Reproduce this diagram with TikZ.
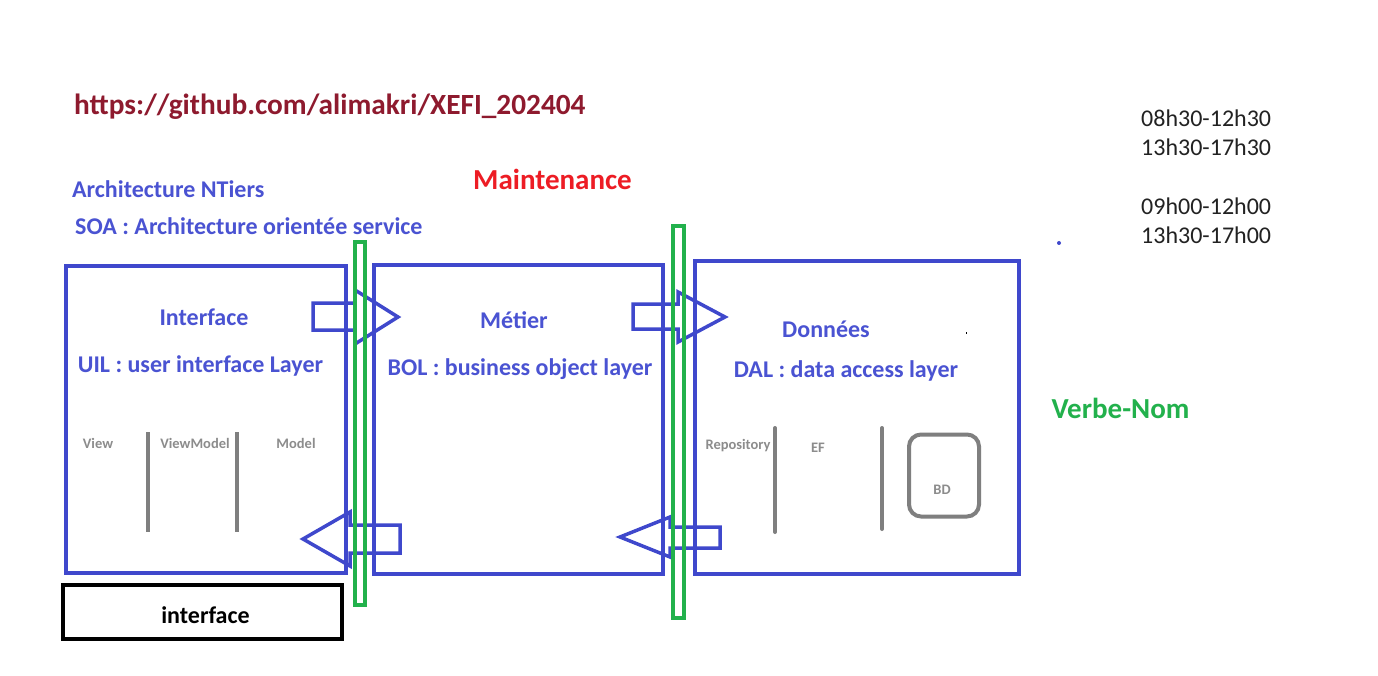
\documentclass[tikz,border=0pt]{standalone}
\usepackage{fontspec}
\setmainfont{Carlito}
\definecolor{pblue}{HTML}{3F48CC}
\definecolor{tblue}{HTML}{4A53D2}
\definecolor{pgreen}{HTML}{22B14C}
\definecolor{pred}{HTML}{ED1C24}
\definecolor{dred}{HTML}{8E1A2E}
\definecolor{pgray}{HTML}{7F7F7F}
\definecolor{tgray}{HTML}{8C8C8C}
\definecolor{tdark}{HTML}{222222}
\begin{document}
\begin{tikzpicture}[x=1pt,y=-1pt,
  layer/.style={draw=pblue,line width=4pt},
  greenbar/.style={draw=pgreen,line width=3.5pt},
  blockarrow/.style={draw=pblue,line width=3.5pt,line join=miter},
  sep/.style={draw=pgray,line width=4.5pt},
  btxt/.style={text=tblue,font=\bfseries\fontsize{24}{28}\selectfont,inner sep=0pt},
  small/.style={text=tgray,font=\bfseries\fontsize{14.5}{17}\selectfont,inner sep=0pt},
  hour/.style={text=tdark,font=\fontsize{24}{28}\selectfont,inner sep=0pt,anchor=west}]
\useasboundingbox[fill=white] (0,0) rectangle (1378,676);
% layer boxes
\node[layer,minimum width=280pt,minimum height=307pt,inner sep=0pt] (ui) at (206,419.5) {};
\node[layer,minimum width=289pt,minimum height=309pt,inner sep=0pt] (bo) at (518.5,419.5) {};
\node[layer,minimum width=324pt,minimum height=313pt,inner sep=0pt] (da) at (857,417.5) {};
\node[draw=black,line width=4pt,minimum width=279pt,minimum height=54pt,inner sep=0pt] (itf) at (202.5,612) {};
\node[font=\bfseries\fontsize{24}{28}\selectfont,inner sep=0pt] (itft) at (205.5,615) {interface};
% arrows
\draw[blockarrow] (313,303) -- (355,303) -- (355,290) -- (398,317) -- (355,344) -- (355,330) -- (313,330) -- cycle;
\draw[blockarrow] (400,525) -- (350,525) -- (350,512) -- (303,539) -- (350,566) -- (350,553) -- (400,553) -- cycle;
\draw[blockarrow] (633,304) -- (678,304) -- (678,292) -- (725,317) -- (678,342) -- (678,329) -- (633,329) -- cycle;
\draw[blockarrow] (720,527) -- (670,527) -- (670,517) -- (620,537) -- (670,557) -- (670,548) -- (720,548) -- cycle;
% green bars
\node[greenbar,minimum width=10pt,minimum height=363pt,inner sep=0pt] (g1) at (360,423.5) {};
\node[greenbar,minimum width=11pt,minimum height=392pt,inner sep=0pt] (g2) at (678.5,422) {};
% titles
\node[text=dred,font=\bfseries\fontsize{29.3}{34}\selectfont,anchor=west,inner sep=0pt] (url) at (74,107) {https://github.com/alimakri/XEFI\_202404};
\node[btxt,anchor=west] (arch) at (72,189) {Architecture NTiers};
\node[btxt,anchor=west] (soa) at (75,226) {SOA : Architecture orientée service};
\node[text=pred,font=\bfseries\fontsize{29}{34}\selectfont,inner sep=0pt] (maint) at (552.5,179) {Maintenance};
\node[text=pgreen,font=\bfseries\fontsize{29}{34}\selectfont,inner sep=0pt] (verbe) at (1120.5,408) {Verbe-Nom};
% layer texts
\node[btxt] (t1) at (204,317) {Interface};
\node[btxt] (t1b) at (200.5,366) {UIL : user interface Layer};
\node[btxt] (t2) at (514,320) {Métier};
\node[btxt] (t2b) at (520,369) {BOL : business object layer};
\node[btxt] (t3) at (826,329) {Données};
\node[btxt] (t3b) at (846,371) {DAL : data access layer};
% interface detail
\node[small] (view) at (98,443) {View};
\node[small] (vm) at (195,443) {ViewModel};
\node[small] (model) at (296,443) {Model};
\coordinate (s1a) at (148,432); \coordinate (s1b) at (148,532);
\coordinate (s2a) at (237,432); \coordinate (s2b) at (237,532);
\draw[sep] (s1a) -- (s1b);
\draw[sep] (s2a) -- (s2b);
% data detail
\node[small] (repo) at (738,446) {Repository};
\node[small] (ef) at (818,448) {EF};
\coordinate (s3a) at (775,428); \coordinate (s3b) at (775,532);
\coordinate (s4a) at (882,428); \coordinate (s4b) at (882,529);
\draw[sep,line width=4pt,line cap=round] (s3a) -- (s3b);
\draw[sep,line width=4pt,line cap=round] (s4a) -- (s4b);
\node[draw=pgray,line width=4pt,rounded corners=12pt,minimum width=70pt,minimum height=82pt,inner sep=0pt] (bd) at (944,475.5) {};
\node[small] (bdt) at (942,490) {BD};
% hours
\node[hour] (h1) at (1141,118) {08h30-12h30};
\node[hour] (h2) at (1141,147) {13h30-17h30};
\node[hour] (h3) at (1141,206) {09h00-12h00};
\node[hour] (h4) at (1141,235) {13h30-17h00};
% dots
\fill[pblue] (1059,243) circle (2pt);
\fill[black] (965.5,331.5) rectangle (967,334);
\end{tikzpicture}
\end{document}
